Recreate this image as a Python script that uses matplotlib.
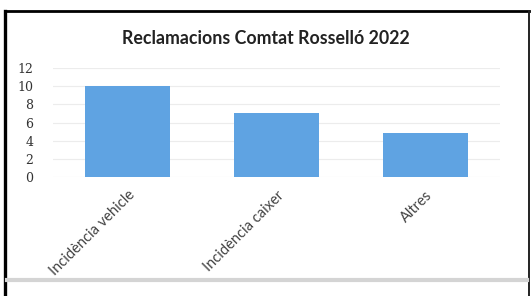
import matplotlib
matplotlib.use("Agg")
import matplotlib.pyplot as plt
from matplotlib.lines import Line2D

categories = ["Incidència vehicle", "Incidència caixer", "Altres"]
values = [10, 7, 4.8]
yticks = [0, 2, 4, 6, 8, 10, 12]
title = "Reclamacions Comtat Rosselló 2022"

W, H = 532, 296
fig = plt.figure(figsize=(W / 100, H / 100), dpi=100)
fig.patch.set_facecolor("white")

# outer frame (scanned chart border)
fig.add_artist(Line2D([5 / W, 5 / W], [1 - 11 / H, 0], color="black", lw=2.4, transform=fig.transFigure))
fig.add_artist(Line2D([5 / W, 529 / W], [1 - 11 / H, 1 - 11 / H], color="black", lw=2.0, transform=fig.transFigure))
fig.add_artist(Line2D([529 / W, 529 / W], [1 - 11 / H, 0], color="#222222", lw=1.4, transform=fig.transFigure))
fig.add_artist(Line2D([7 / W, 527 / W], [1 - 280 / H, 1 - 280 / H], color="#d4d4d4", lw=3.0, transform=fig.transFigure))

left, right = 53, 500
top, bottom = 68, 177
ax = fig.add_axes([left / W, 1 - bottom / H, (right - left) / W, (bottom - top) / H])
ax.bar(range(len(categories)), values, width=0.57, color="#5fa3e2", zorder=2)
ax.set_xlim(-0.5, len(categories) - 0.5)
ax.set_ylim(0, 12)
ax.set_yticks(yticks)
ax.set_yticklabels([str(v) for v in yticks], fontsize=9, family="DejaVu Serif", color="#333333")
ax.set_xticks(range(len(categories)))
ax.set_xticklabels(categories, rotation=45, ha="right", rotation_mode="anchor",
                   fontsize=10.5, family="Lato", color="#444444")
ax.tick_params(axis="both", length=0)
ax.tick_params(axis="y", pad=14)
ax.tick_params(axis="x", pad=8)
for s in ax.spines.values():
    s.set_visible(False)
ax.grid(axis="y", color="#ececec", lw=0.8, zorder=0)
ax.set_axisbelow(True)

fig.text(266 / W, 1 - 38 / H, title, ha="center", va="center", fontsize=12.8,
         family="Lato", fontweight="bold", color="#222222")

fig.savefig("out.png", dpi=100)
